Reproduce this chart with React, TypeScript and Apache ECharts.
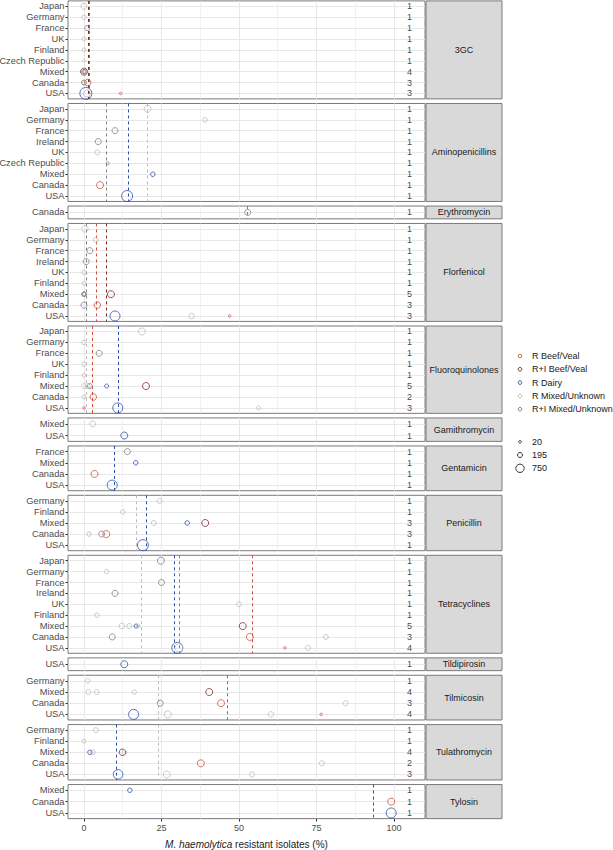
import React, { useEffect, useRef } from "react";
import * as echarts from "echarts";

const FONT = "'Liberation Sans', Arial, Helvetica, sans-serif";

const GROUPS = ["R Beef/Veal", "R+I Beef/Veal", "R Dairy", "R Mixed/Unknown", "R+I Mixed/Unknown"];
const GROUP_COLORS = ["#D0503C", "#7E2B26", "#2B4FAA", "#BDBDBD", "#808080"];

// [groupIndex, country, % resistant, isolates]
type Pt = [number, string, number, number];
type Mean = [number, number];

const cat3GC = ["Japan", "Germany", "France", "UK", "Finland", "Czech Republic", "Mixed", "Canada", "USA"];
const cnt3GC = [1, 1, 1, 1, 1, 1, 4, 3, 3];
const pts3GC: Pt[] = [
  [3, "Japan", 0, 324], [3, "Germany", 0, 144], [4, "France", 1, 196], [3, "UK", 0, 100],
  [3, "Finland", 0, 100], [3, "Czech Republic", 0, 36], [1, "Mixed", 0, 484], [3, "Mixed", 0, 196],
  [4, "Mixed", 0.4, 144], [4, "Mixed", 0, 100], [4, "Canada", 0, 196], [0, "Canada", 1.2, 400],
  [3, "Canada", 0, 100], [2, "USA", 0.6, 1764], [3, "USA", 0.9, 484], [0, "USA", 11.8, 16],
];
const mean3GC: Mean[] = [[1, 1.4], [0, 1.7]];

const catAmino = ["Japan", "Germany", "France", "Ireland", "UK", "Czech Republic", "Mixed", "Canada", "USA"];
const cntAmino = [1, 1, 1, 1, 1, 1, 1, 1, 1];
const ptsAmino: Pt[] = [
  [3, "Japan", 20.5, 484], [3, "Germany", 39, 144], [4, "France", 10, 324], [4, "Ireland", 4.6, 324],
  [3, "UK", 4.3, 196], [4, "Czech Republic", 7.6, 36], [2, "Mixed", 22.2, 144], [0, "Canada", 5.2, 484],
  [2, "USA", 13.9, 1444],
];
const meanAmino: Mean[] = [[4, 7.2], [2, 14.4], [3, 20.4]];

const catEry = ["Canada"];
const cntEry = [1];
const ptsEry: Pt[] = [[4, "Canada", 52.8, 324]];
const meanEry: Mean[] = [[4, 52.8]];

const catFlor = ["Japan", "Germany", "France", "Ireland", "UK", "Finland", "Mixed", "Canada", "USA"];
const cntFlor = [1, 1, 1, 1, 1, 1, 5, 3, 3];
const ptsFlor: Pt[] = [
  [3, "Japan", 0.3, 400], [3, "Germany", 3.8, 196], [4, "France", 1.9, 324], [4, "Ireland", 0.7, 324],
  [3, "UK", 0, 144], [3, "Finland", 0, 100], [1, "Mixed", 0, 144], [4, "Mixed", 0, 100],
  [3, "Mixed", 0, 100], [1, "Mixed", 8.7, 484], [4, "Canada", 0, 324], [0, "Canada", 4.3, 400],
  [2, "USA", 10, 1156], [3, "USA", 34.7, 256], [0, "USA", 47, 16],
];
const meanFlor: Mean[] = [[4, 0.8], [0, 3.8], [1, 7.3]];

const catFluoro = ["Japan", "Germany", "France", "UK", "Finland", "Mixed", "Canada", "USA"];
const cntFluoro = [1, 1, 1, 1, 1, 5, 2, 3];
const ptsFluoro: Pt[] = [
  [3, "Japan", 18.7, 484], [3, "Germany", 0, 144], [4, "France", 4.9, 324], [3, "UK", 0, 144],
  [3, "Finland", 0, 100], [3, "Mixed", 0, 196], [3, "Mixed", 1.2, 196], [4, "Mixed", 1.9, 196],
  [2, "Mixed", 7.3, 100], [1, "Mixed", 20, 484], [3, "Canada", 0, 100], [0, "Canada", 3, 400],
  [0, "USA", 0, 16], [2, "USA", 10.9, 1156], [3, "USA", 56.3, 100],
];
const meanFluoro: Mean[] = [[3, 0.7], [0, 2.8], [2, 10.9]];

const catGami = ["Mixed", "USA"];
const cntGami = [1, 1];
const ptsGami: Pt[] = [[3, "Mixed", 2.8, 324], [2, "USA", 13, 484]];
const meanGami: Mean[] = [];

const catGenta = ["France", "Mixed", "Canada", "USA"];
const cntGenta = [1, 1, 1, 1];
const ptsGenta: Pt[] = [[4, "France", 14, 324], [2, "Mixed", 16.7, 144], [0, "Canada", 3.4, 484], [2, "USA", 9.1, 1156]];
const meanGenta: Mean[] = [[2, 9.6]];

const catPeni = ["Germany", "Finland", "Mixed", "Canada", "USA"];
const cntPeni = [1, 1, 3, 3, 1];
const ptsPeni: Pt[] = [
  [3, "Germany", 24.4, 196], [3, "Finland", 12.5, 144], [3, "Mixed", 22.5, 196], [2, "Mixed", 33.3, 144],
  [1, "Mixed", 39.1, 484], [3, "Canada", 1.6, 144], [4, "Canada", 5.7, 324], [0, "Canada", 7.2, 484],
  [2, "USA", 19, 1444],
];
const meanPeni: Mean[] = [[3, 16.9], [2, 20]];

const catTetra = ["Japan", "Germany", "France", "Ireland", "UK", "Finland", "Mixed", "Canada", "USA"];
const cntTetra = [1, 1, 1, 1, 1, 1, 5, 3, 4];
const ptsTetra: Pt[] = [
  [4, "Japan", 24.8, 484], [3, "Germany", 7.3, 144], [4, "France", 25, 324], [4, "Ireland", 10, 324],
  [3, "UK", 50, 196], [3, "Finland", 4.2, 144], [3, "Mixed", 12.2, 256], [3, "Mixed", 14.6, 196],
  [2, "Mixed", 16.8, 100], [3, "Mixed", 17.5, 100], [1, "Mixed", 51.2, 484], [4, "Canada", 9.1, 324],
  [0, "Canada", 53.5, 484], [3, "Canada", 78, 196], [2, "USA", 30.1, 1444], [3, "USA", 30.6, 676],
  [0, "USA", 64.8, 16], [3, "USA", 72.2, 256],
];
const meanTetra: Mean[] = [[3, 18.4], [2, 29], [4, 30.6], [0, 54.4]];

const catTildi = ["USA"];
const cntTildi = [1];
const ptsTildi: Pt[] = [[2, "USA", 13, 484]];
const meanTildi: Mean[] = [];

const catTilmi = ["Germany", "Mixed", "Canada", "USA"];
const cntTilmi = [1, 4, 3, 4];
const ptsTilmi: Pt[] = [
  [3, "Germany", 1.2, 144], [3, "Mixed", 1.4, 196], [3, "Mixed", 4.1, 196], [3, "Mixed", 16.2, 144],
  [1, "Mixed", 40.4, 484], [4, "Canada", 24.6, 324], [0, "Canada", 44.2, 484], [3, "Canada", 84.4, 196],
  [2, "USA", 16, 1156], [3, "USA", 27, 484], [3, "USA", 60.3, 256], [0, "USA", 76.5, 16],
];
const meanTilmi: Mean[] = [[3, 23.8], [0, 46.3]];

const catTula = ["Germany", "Finland", "Mixed", "Canada", "USA"];
const cntTula = [1, 1, 4, 2, 3];
const ptsTula: Pt[] = [
  [3, "Germany", 3.8, 196], [3, "Finland", 0, 100], [2, "Mixed", 1.9, 144], [3, "Mixed", 2.8, 196],
  [1, "Mixed", 12.4, 400], [3, "Mixed", 13, 196], [0, "Canada", 37.7, 484], [3, "Canada", 76.7, 196],
  [2, "USA", 11, 1024], [3, "USA", 26.7, 484], [3, "USA", 54.2, 196],
];
const meanTula: Mean[] = [[2, 10.3], [3, 23.9]];

const catTylo = ["Mixed", "Canada", "USA"];
const cntTylo = [1, 1, 1];
const ptsTylo: Pt[] = [[2, "Mixed", 14.8, 144], [0, "Canada", 99.1, 484], [2, "USA", 99.1, 1156]];
const meanTylo: Mean[] = [[2, 93.3]];

const FACETS = [
  { name: "3GC", cats: cat3GC, counts: cnt3GC, pts: pts3GC, means: mean3GC },
  { name: "Aminopenicillins", cats: catAmino, counts: cntAmino, pts: ptsAmino, means: meanAmino },
  { name: "Erythromycin", cats: catEry, counts: cntEry, pts: ptsEry, means: meanEry },
  { name: "Florfenicol", cats: catFlor, counts: cntFlor, pts: ptsFlor, means: meanFlor },
  { name: "Fluoroquinolones", cats: catFluoro, counts: cntFluoro, pts: ptsFluoro, means: meanFluoro },
  { name: "Gamithromycin", cats: catGami, counts: cntGami, pts: ptsGami, means: meanGami },
  { name: "Gentamicin", cats: catGenta, counts: cntGenta, pts: ptsGenta, means: meanGenta },
  { name: "Penicillin", cats: catPeni, counts: cntPeni, pts: ptsPeni, means: meanPeni },
  { name: "Tetracyclines", cats: catTetra, counts: cntTetra, pts: ptsTetra, means: meanTetra },
  { name: "Tildipirosin", cats: catTildi, counts: cntTildi, pts: ptsTildi, means: meanTildi },
  { name: "Tilmicosin", cats: catTilmi, counts: cntTilmi, pts: ptsTilmi, means: meanTilmi },
  { name: "Tulathromycin", cats: catTula, counts: cntTula, pts: ptsTula, means: meanTula },
  { name: "Tylosin", cats: catTylo, counts: cntTylo, pts: ptsTylo, means: meanTylo },
];

const X_TICKS = [0, 25, 50, 75, 100];
const X_GRID = [0, 12.5, 25, 37.5, 50, 62.5, 75, 87.5, 100];
const COUNT_X = 105;
const SIZE_BREAKS = [20, 195, 750];

const sizeOf = (n: number) => 1.5 + 0.25 * Math.sqrt(n);

export default function App() {
  const ref = useRef<HTMLDivElement>(null);
  useEffect(() => {
    const chart = echarts.init(ref.current!, null, { renderer: "svg" });
    const U = 10.65, GAP = 4.6, TOP0 = 0.9;
    const LEFT = 68, WIDTH = 357;
    const XMIN = -5.16, XMAX = 110;
    const STRIP_X = 426, STRIP_W = 76;
    let y = TOP0;
    const grid: any[] = [], xAxis: any[] = [], yAxis: any[] = [], series: any[] = [], graphic: any[] = [];
    FACETS.forEach((f, i) => {
      const h = (f.cats.length + 0.2) * U;
      const last = i === FACETS.length - 1;
      grid.push({
        left: LEFT, top: y, width: WIDTH, height: h, show: true,
        borderColor: "#7a7a7a", borderWidth: 1, backgroundColor: "rgba(0,0,0,0)",
        containLabel: false, outerBoundsMode: "none",
      });
      xAxis.push({
        type: "value", gridIndex: i, min: XMIN, max: XMAX,
        axisLine: { show: false, onZero: false },
        splitLine: { show: false },
        axisTick: last
          ? { show: true, customValues: X_TICKS, length: 3, lineStyle: { color: "#333", width: 1 } }
          : { show: false },
        axisLabel: last
          ? { show: true, customValues: X_TICKS, fontSize: 9, color: "#4d4d4d", margin: 5, fontFamily: FONT }
          : { show: false },
      });
      yAxis.push({
        type: "category", gridIndex: i, data: f.cats, inverse: true, position: "left",
        axisLine: { show: false, onZero: false },
        splitLine: { show: false },
        axisTick: { show: true, alignWithLabel: true, interval: 0, length: 2.5, lineStyle: { color: "#333", width: 1 } },
        axisLabel: { interval: 0, fontSize: 9.3, color: "#4d4d4d", margin: 3.5, fontFamily: FONT },
      });
      // counts column + grid lines
      series.push({
        type: "scatter", xAxisIndex: i, yAxisIndex: i, silent: true, z: 1,
        data: f.counts.map((c, j) => [COUNT_X, f.cats[j], c]),
        symbolSize: 1, itemStyle: { color: "rgba(0,0,0,0)" },
        label: {
          show: true, position: "inside", formatter: (p: any) => String(p.value[2]),
          fontSize: 9, color: "#111", fontFamily: FONT,
        },
        emphasis: { disabled: true },
        markLine: {
          silent: true, symbol: ["none", "none"], label: { show: false }, z: 0,
          emphasis: { disabled: true },
          lineStyle: { color: "#ebebeb", width: 0.8, type: "solid" },
          data: [
            ...X_GRID.map((v) => ({ xAxis: v, lineStyle: { color: "#e8e8e8", width: v % 25 === 0 ? 1 : 0.6, type: "solid" } })),
            ...f.cats.map((c) => ({ yAxis: c, lineStyle: { color: "#e8e8e8", width: 1, type: "solid" } })),
          ],
        },
      });
      GROUPS.forEach((g, gi) => {
        const pts = f.pts.filter((p) => p[0] === gi).map((p) => [p[2], p[1], p[3]]);
        const means = f.means.filter((m) => m[0] === gi);
        if (!pts.length && !means.length) return;
        series.push({
          type: "scatter", name: g, xAxisIndex: i, yAxisIndex: i, silent: true, z: 3,
          data: pts,
          symbol: "circle",
          symbolSize: (v: any) => sizeOf(v[2]),
          itemStyle: { color: "rgba(0,0,0,0)", borderColor: GROUP_COLORS[gi], borderWidth: 1 },
          emphasis: { disabled: true },
          markLine: means.length
            ? {
                silent: true, symbol: ["none", "none"], label: { show: false }, z: 2,
                emphasis: { disabled: true },
                lineStyle: { color: GROUP_COLORS[gi], width: 1, type: [3, 3] },
                data: means.map((m) => ({ xAxis: m[1] })),
              }
            : undefined,
        });
      });
      graphic.push({
        type: "rect", silent: true,
        shape: { x: STRIP_X, y, width: STRIP_W, height: h },
        style: { fill: "#d9d9d9", stroke: "#7a7a7a", lineWidth: 1 },
      });
      graphic.push({
        type: "text", silent: true, x: STRIP_X + STRIP_W / 2, y: y + h / 2,
        style: { text: f.name, fontSize: 9, fill: "#1a1a1a", fontFamily: FONT, align: "center", verticalAlign: "middle" },
      });
      y += h + GAP;
    });

    // x axis title
    graphic.push({
      type: "text", silent: true, x: LEFT + WIDTH / 2, y: 844,
      style: {
        text: "{it|M. haemolytica} resistant isolates (%)",
        fontSize: 10, fill: "#1a1a1a", fontFamily: FONT, align: "center", verticalAlign: "middle",
        rich: { it: { fontStyle: "italic", fontSize: 10, fontFamily: FONT, fill: "#1a1a1a" } },
      },
    });
    // colour legend
    GROUPS.forEach((g, gi) => {
      const ly = 356 + gi * 13.3;
      graphic.push({
        type: "circle", silent: true, shape: { cx: 520, cy: ly, r: 1.8 },
        style: { fill: "none", stroke: GROUP_COLORS[gi], lineWidth: 1 },
      });
      graphic.push({
        type: "text", silent: true, x: 532, y: ly,
        style: { text: g, fontSize: 9, fill: "#1a1a1a", fontFamily: FONT, align: "left", verticalAlign: "middle" },
      });
    });
    // size legend
    SIZE_BREAKS.forEach((s, si) => {
      const ly = 441.7 + si * 13.3;
      graphic.push({
        type: "circle", silent: true, shape: { cx: 520, cy: ly, r: sizeOf(s) / 2 },
        style: { fill: "none", stroke: "#333", lineWidth: 1 },
      });
      graphic.push({
        type: "text", silent: true, x: 532, y: ly,
        style: { text: String(s), fontSize: 9, fill: "#1a1a1a", fontFamily: FONT, align: "left", verticalAlign: "middle" },
      });
    });

    chart.setOption({
      animation: false,
      backgroundColor: "#ffffff",
      textStyle: { fontFamily: FONT },
      grid, xAxis, yAxis, series, graphic,
    });
    return () => chart.dispose();
  }, []);
  return (
    <div
      ref={ref}
      style={{ position: "absolute", left: 0, top: 0, width: 613, height: 850, background: "#fff" }}
    />
  );
}
